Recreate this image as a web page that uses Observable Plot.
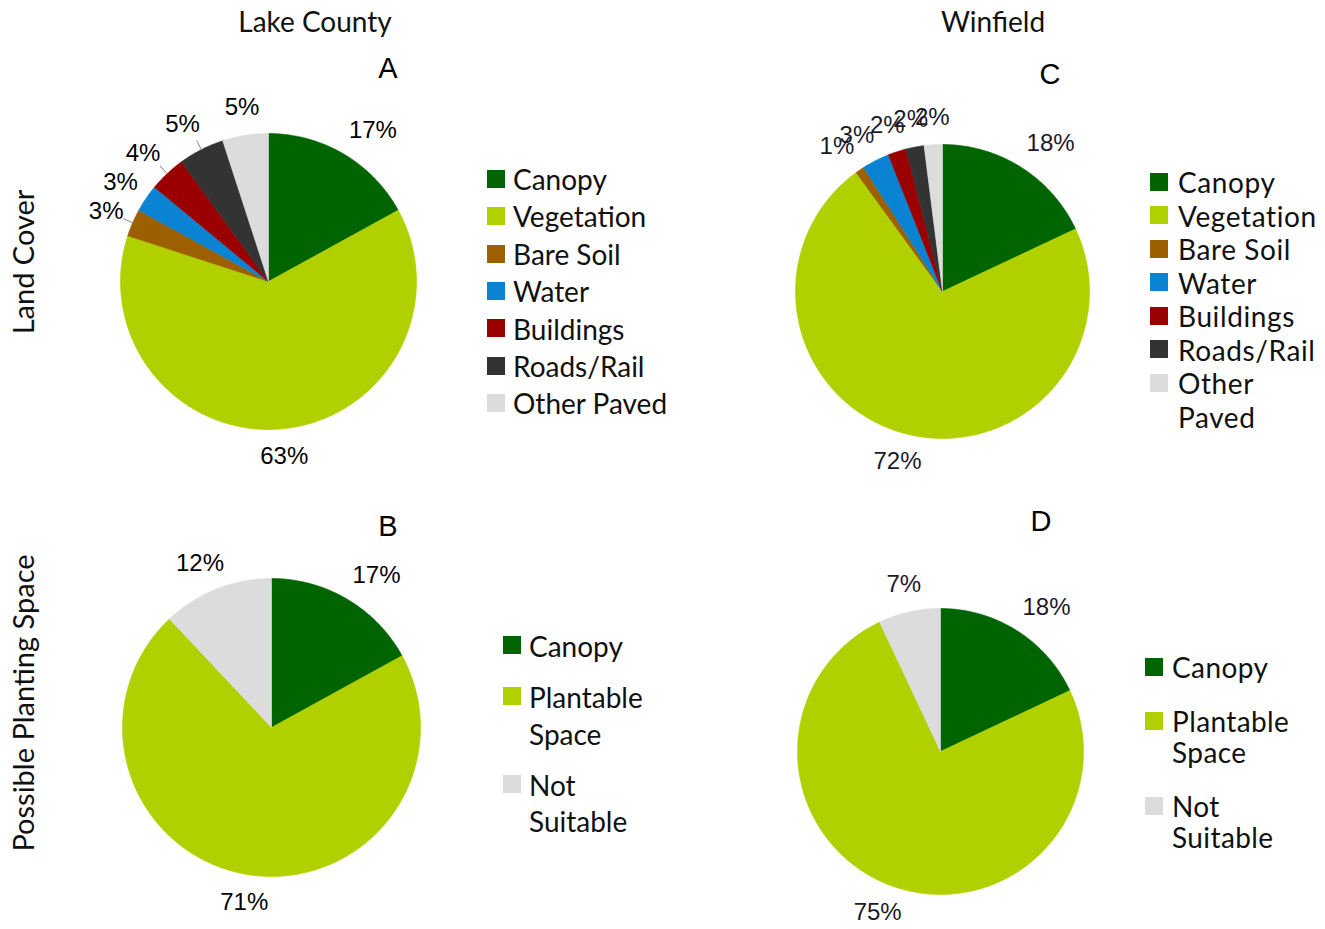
<!DOCTYPE html>
<html><head><meta charset="utf-8">
<script src="https://cdn.jsdelivr.net/npm/d3@7"></script>
<script src="https://cdn.jsdelivr.net/npm/@observablehq/plot@0.6"></script>
<style>
html,body{margin:0;padding:0;background:#fff;}
#root{position:relative;width:1325px;height:929px;overflow:hidden;background:#fff;}
.abs{position:absolute;}
.ctr{transform:translate(-50%,-50%);white-space:nowrap;line-height:1;}
.title{font-family:Lato,sans-serif;font-size:28px;color:#111;}
.letter{font-family:"Liberation Sans",Arial,sans-serif;font-size:29px;color:#000;}
.rowtitle{font-family:Lato,sans-serif;font-size:29px;color:#111;transform:translate(-50%,-50%) rotate(-90deg);white-space:nowrap;line-height:1;}
.legend{font-family:Lato,sans-serif;font-size:28px;color:#111;}
.item{display:flex;align-items:flex-start;}
.sw{width:18px;height:18px;flex:none;}
.lbl{white-space:normal;}
</style></head>
<body><div id="root"></div>
<script>
// ---------- data ----------
const columnTitles = ["Lake County", "Winfield"];
const rowTitles = ["Land Cover", "Possible Planting Space"];
const panelLetters = ["A", "B", "C", "D"];

const landCategories = ["Canopy", "Vegetation", "Bare Soil", "Water", "Buildings", "Roads/Rail", "Other Paved"];
const landColors = ["#006400", "#b0d000", "#9c6000", "#0a84d2", "#9b0000", "#333333", "#dcdcdc"];
const lakeCountyLand = [17, 63, 3, 3, 4, 5, 5];
const winfieldLand = [18, 72, 1, 3, 2, 2, 2];

const plantCategories = ["Canopy", "Plantable Space", "Not Suitable"];
const plantColors = ["#006400", "#b0d000", "#dcdcdc"];
const lakeCountyPlant = [17, 71, 12];
const winfieldPlant = [18, 75, 7];

const lakeCountyLeaders = ["Bare Soil", "Buildings", "Roads/Rail"];

// ---------- helpers ----------
const root = document.getElementById("root");
function place(el, left, top) { el.style.left = left + "px"; el.style.top = top + "px"; root.appendChild(el); return el; }
function textEl(cls, txt) { const d = document.createElement("div"); d.className = "abs " + cls; d.textContent = txt; return d; }

function piePlot({categories, colors, values, radius, size, leaders = [], labelColor = "#000"}) {
  const fs = 24, gap = 10;
  const total = d3.sum(values);
  const R = size / 2 / radius;
  const slices = [], labels = [], links = [];
  let acc = 0;
  values.forEach((v, i) => {
    const a0 = acc / total * 2 * Math.PI; acc += v; const a1 = acc / total * 2 * Math.PI;
    const n = Math.max(2, Math.ceil((a1 - a0) / 0.01));
    slices.push({cat: categories[i], x: 0, y: 0});
    for (let k = 0; k <= n; k++) {
      const a = a0 + (a1 - a0) * k / n;
      slices.push({cat: categories[i], x: Math.sin(a), y: Math.cos(a)});
    }
    slices.push({cat: categories[i], x: 0, y: 0});
    const am = (a0 + a1) / 2, s = Math.sin(am), c = Math.cos(am);
    const tw = (String(v).length * 0.556 + 0.889) * fs;
    const rr = 1 + gap / radius;
    const xo = Math.sign(s) * Math.min(tw / 2, 2 * s * s * tw);
    labels.push({text: v + "%", x: rr * s + xo / radius, y: rr * c + c * 18 / radius});
    if (leaders.includes(categories[i])) links.push({x1: s, y1: c, x2: s * 1.07, y2: c * 1.07});
  });
  return Plot.plot({
    width: size, height: size, margin: 0,
    x: {domain: [-R, R], axis: null},
    y: {domain: [-R, R], axis: null},
    color: {domain: categories, range: colors},
    style: {background: "transparent", overflow: "visible"},
    marks: [
      Plot.line(slices, {x: "x", y: "y", z: "cat", fill: "cat", stroke: "cat", strokeWidth: 0.6, curve: "linear"}),
      Plot.link(links, {x1: "x1", y1: "y1", x2: "x2", y2: "y2", stroke: "#888", strokeWidth: 1}),
      Plot.text(labels, {x: "x", y: "y", text: "text", fontSize: fs, fontFamily: "Liberation Sans, Arial, sans-serif", fill: labelColor})
    ]
  });
}

function legend(categories, colors, {left, top, lineHeight, itemGap, textWidth, letterSpacing = 0, textLeft}) {
  const box = document.createElement("div");
  box.className = "abs legend";
  box.style.lineHeight = lineHeight + "px";
  box.style.letterSpacing = letterSpacing + "px";
  categories.forEach((cat, i) => {
    const it = document.createElement("div");
    it.className = "item";
    if (i > 0) it.style.marginTop = itemGap + "px";
    const sw = document.createElement("div");
    sw.className = "sw";
    sw.style.background = colors[i];
    sw.style.marginTop = ((lineHeight - 18) / 2 - 1) + "px";
    sw.style.marginRight = (textLeft - 18) + "px";
    const lb = document.createElement("div");
    lb.className = "lbl";
    lb.style.width = textWidth + "px";
    lb.textContent = cat;
    it.appendChild(sw); it.appendChild(lb);
    box.appendChild(it);
  });
  return place(box, left, top);
}

// ---------- pies ----------
const SIZE = 460;
const pies = [
  {cx: 268, cy: 281, r: 148, categories: landCategories, colors: landColors, values: lakeCountyLand, leaders: lakeCountyLeaders, labelColor: "#000"},
  {cx: 271, cy: 727, r: 149, categories: plantCategories, colors: plantColors, values: lakeCountyPlant, labelColor: "#000"},
  {cx: 942, cy: 291, r: 147, categories: landCategories, colors: landColors, values: winfieldLand, labelColor: "#1a1a2a"},
  {cx: 940, cy: 751, r: 143, categories: plantCategories, colors: plantColors, values: winfieldPlant, labelColor: "#1a1a2a"}
];
pies.forEach(p => {
  const svg = piePlot({categories: p.categories, colors: p.colors, values: p.values, radius: p.r, size: SIZE, leaders: p.leaders || [], labelColor: p.labelColor});
  svg.style.position = "absolute";
  place(svg, p.cx - SIZE / 2, p.cy - SIZE / 2);
});

// ---------- titles ----------
place(textEl("ctr title", columnTitles[0]), 315, 21);
place(textEl("ctr title", columnTitles[1]), 993, 21);
place(textEl("rowtitle", rowTitles[0]), 22, 262);
place(textEl("rowtitle", rowTitles[1]), 22, 703);
place(textEl("ctr letter", panelLetters[0]), 388, 68);
place(textEl("ctr letter", panelLetters[1]), 388, 526);
place(textEl("ctr letter", panelLetters[2]), 1050, 74);
place(textEl("ctr letter", panelLetters[3]), 1041, 521);

// ---------- legends ----------
legend(landCategories, landColors, {left: 487, top: 161, lineHeight: 37.4, itemGap: 0, textWidth: 200, textLeft: 26});
legend(plantCategories, plantColors, {left: 503, top: 628, lineHeight: 36.5, itemGap: 14.5, textWidth: 130, textLeft: 26});
legend(landCategories, landColors, {left: 1150, top: 166, lineHeight: 33.5, itemGap: 0, textWidth: 147, letterSpacing: 0.6, textLeft: 28});
legend(plantCategories, plantColors, {left: 1145, top: 652, lineHeight: 31, itemGap: 23, textWidth: 130, letterSpacing: 0.4, textLeft: 27});
</script>
</body></html>
